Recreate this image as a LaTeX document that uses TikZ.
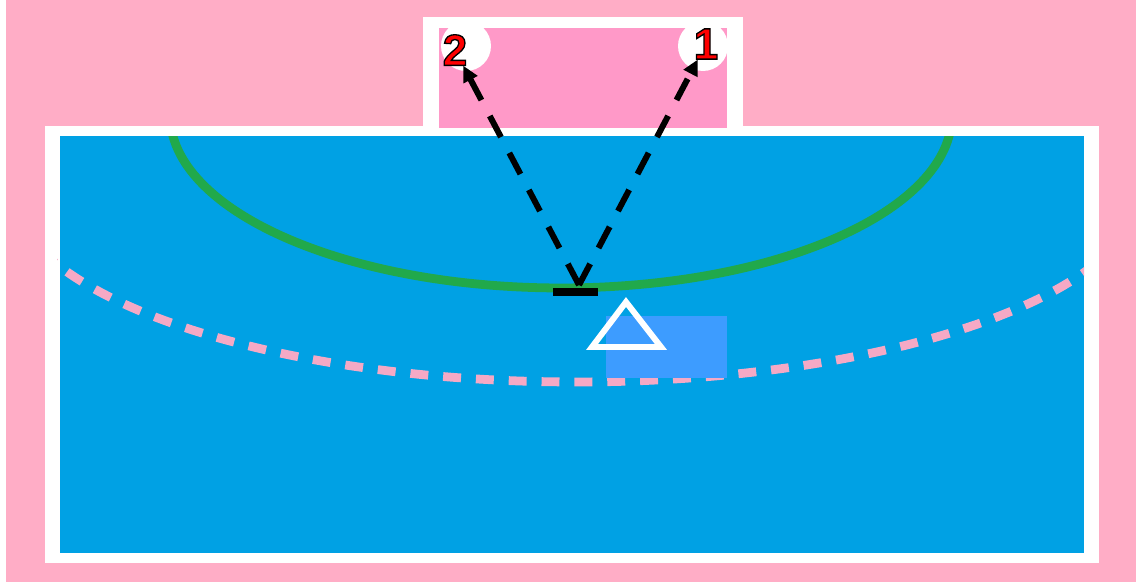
\documentclass[tikz,border=0pt]{standalone}
\usepackage{fontspec}
\newfontfamily\numfont{Liberation Sans Bold}[FakeBold=3]
\usetikzlibrary{arrows.meta}
\definecolor{floor}{HTML}{FFADC6}
\definecolor{court}{HTML}{00A1E4}
\definecolor{goalpink}{HTML}{FF99C8}
\definecolor{zone}{HTML}{21A94B}
\definecolor{freeline}{HTML}{F5A9C5}
\definecolor{shooter}{HTML}{3D9CFF}
\newcommand\outlined[1]{\special{pdf:literal direct 0 0 0 RG}#1}
\tikzset{
  zoneline/.style={draw=zone,line width=5pt},
  freethrow/.style={draw=freeline,line width=5pt,dash pattern=on 10.2pt off 8.5pt},
  pass/.style={-{Triangle[length=9pt,width=8.5pt]},line width=3.4pt,dash pattern=on 13.6pt off 10.2pt},
  player/.style={draw=white,line width=3.4pt,line join=miter},
  num/.style={text=red,inner sep=0pt,font=\numfont\fontsize{25}{25}\selectfont}}
\begin{document}
\begin{tikzpicture}[x=0.02cm,y=-0.02cm]
\useasboundingbox (0,0) rectangle (1136,582);
\fill[floor](6,0)rectangle(1136,582);
\fill[white](45,126)rectangle(1099,563);\fill[court](60,136)rectangle(1084,553);
\fill[white](423,17)rectangle(743,136);\fill[goalpink](439,28)rectangle(727,128);
\begin{scope}
\clip(439,28)rectangle(727,128);
\fill[white](466,46)circle[radius=0.5cm];\fill[white](703,46)circle[radius=0.5cm];
\end{scope}
\begin{scope}
\clip(57,136)rectangle(1084,553);
\draw[zoneline](561,115)ellipse[x radius=7.82cm,y radius=3.46cm];
\draw[freethrow](576,185)ellipse[x radius=11.34cm,y radius=3.94cm];
\end{scope}
\fill[shooter](606,316)rectangle(727,378);
\draw[player](626,302)--(592,347)--(661,347)--cycle;
\draw[line width=4.5pt](553,292)--(598,292);
\coordinate(start)at(579,285);
\node[num](num2)at(455,50){\outlined{2}};
\node[num](num1)at(706,44){\outlined{1}};
\draw[pass](start)--(num2);\draw[pass](start)--(num1);
\end{tikzpicture}
\end{document}
